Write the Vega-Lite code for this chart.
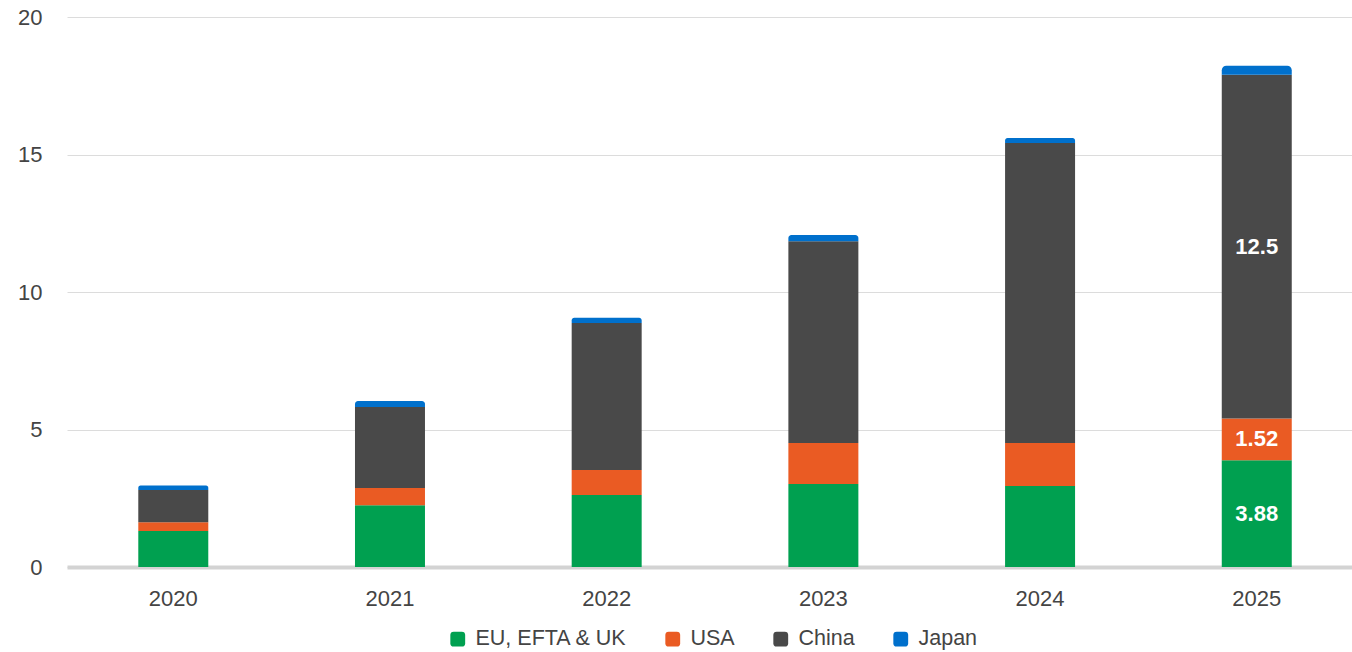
{
  "$schema": "https://vega.github.io/schema/vega-lite/v6.json",
  "autosize": {"type": "none"},
  "width": 1285,
  "height": 550,
  "padding": {"left": 67, "top": 17, "right": 0, "bottom": 85},
  "background": "white",
  "config": {
    "view": {"stroke": null},
    "font": "Liberation Sans",
    "axis": {"labelFont": "Liberation Sans", "labelColor": "#444444", "labelFontSize": 22, "ticks": false, "title": null},
    "legend": {"labelFont": "Liberation Sans", "labelColor": "#444444", "labelFontSize": 21.5}
  },
  "data": {
    "values": [
      {"year": "2020", "series": "EU, EFTA & UK", "k": 1, "value": 1.31},
      {"year": "2020", "series": "USA", "k": 2, "value": 0.32},
      {"year": "2020", "series": "China", "k": 3, "value": 1.17},
      {"year": "2020", "series": "Japan", "k": 4, "value": 0.16},
      {"year": "2021", "series": "EU, EFTA & UK", "k": 1, "value": 2.25},
      {"year": "2021", "series": "USA", "k": 2, "value": 0.62},
      {"year": "2021", "series": "China", "k": 3, "value": 2.95},
      {"year": "2021", "series": "Japan", "k": 4, "value": 0.22},
      {"year": "2022", "series": "EU, EFTA & UK", "k": 1, "value": 2.62},
      {"year": "2022", "series": "USA", "k": 2, "value": 0.91},
      {"year": "2022", "series": "China", "k": 3, "value": 5.34},
      {"year": "2022", "series": "Japan", "k": 4, "value": 0.19},
      {"year": "2023", "series": "EU, EFTA & UK", "k": 1, "value": 3.02},
      {"year": "2023", "series": "USA", "k": 2, "value": 1.49},
      {"year": "2023", "series": "China", "k": 3, "value": 7.34},
      {"year": "2023", "series": "Japan", "k": 4, "value": 0.22},
      {"year": "2024", "series": "EU, EFTA & UK", "k": 1, "value": 2.95},
      {"year": "2024", "series": "USA", "k": 2, "value": 1.56},
      {"year": "2024", "series": "China", "k": 3, "value": 10.91},
      {"year": "2024", "series": "Japan", "k": 4, "value": 0.18},
      {"year": "2025", "series": "EU, EFTA & UK", "k": 1, "value": 3.88},
      {"year": "2025", "series": "USA", "k": 2, "value": 1.52},
      {"year": "2025", "series": "China", "k": 3, "value": 12.5},
      {"year": "2025", "series": "Japan", "k": 4, "value": 0.33}
    ]
  },
  "transform": [
    {"stack": "value", "groupby": ["year"], "sort": [{"field": "k", "order": "ascending"}], "as": ["v0", "v1"]},
    {"calculate": "(datum.v0 + datum.v1) / 2", "as": "mid"}
  ],
  "encoding": {
    "x": {
      "field": "year", "type": "ordinal",
      "scale": {"paddingInner": 0.677, "paddingOuter": 0.3035, "align": 0.542},
      "axis": {"labelAngle": 0, "domainColor": "#d3d3d3", "domainWidth": 4, "labelPadding": 21, "grid": false}
    }
  },
  "layer": [
    {
      "transform": [{"filter": "datum.k < 4"}],
      "mark": {"type": "bar"},
      "encoding": {
        "y": {
          "field": "v0", "type": "quantitative",
          "scale": {"domain": [0, 20]},
          "axis": {"values": [0, 5, 10, 15, 20], "domain": false, "gridColor": "#dcdcdc", "gridWidth": 1, "labelPadding": 25}
        },
        "y2": {"field": "v1"},
        "color": {
          "field": "series", "type": "nominal",
          "scale": {"domain": ["EU, EFTA & UK", "USA", "China", "Japan"], "range": ["#00a050", "#ea5b23", "#494949", "#0070cc"]},
          "legend": {
            "title": null, "orient": "none", "direction": "horizontal",
            "legendX": 380, "legendY": 611,
            "symbolType": "M -0.55 -1 L 0.55 -1 Q 1 -1 1 -0.55 L 1 0.55 Q 1 1 0.55 1 L -0.55 1 Q -1 1 -1 0.55 L -1 -0.55 Q -1 -1 -0.55 -1 Z",
            "symbolSize": 220, "symbolStrokeWidth": 0, "symbolOpacity": 1,
            "columnPadding": 35, "labelOffset": 7
          }
        }
      }
    },
    {
      "transform": [{"filter": "datum.k === 4"}],
      "mark": {"type": "bar", "cornerRadiusTopLeft": 5, "cornerRadiusTopRight": 5},
      "encoding": {
        "y": {"field": "v0", "type": "quantitative"},
        "y2": {"field": "v1"},
        "color": {"field": "series", "type": "nominal"}
      }
    },
    {
      "transform": [
        {"filter": "datum.year === '2025' && datum.k < 4"}
      ],
      "mark": {"type": "text", "color": "white", "fontWeight": "bold", "fontSize": 22, "font": "Liberation Sans", "baseline": "middle"},
      "encoding": {
        "y": {"field": "mid", "type": "quantitative"},
        "text": {"field": "value", "type": "quantitative"}
      }
    }
  ]
}
